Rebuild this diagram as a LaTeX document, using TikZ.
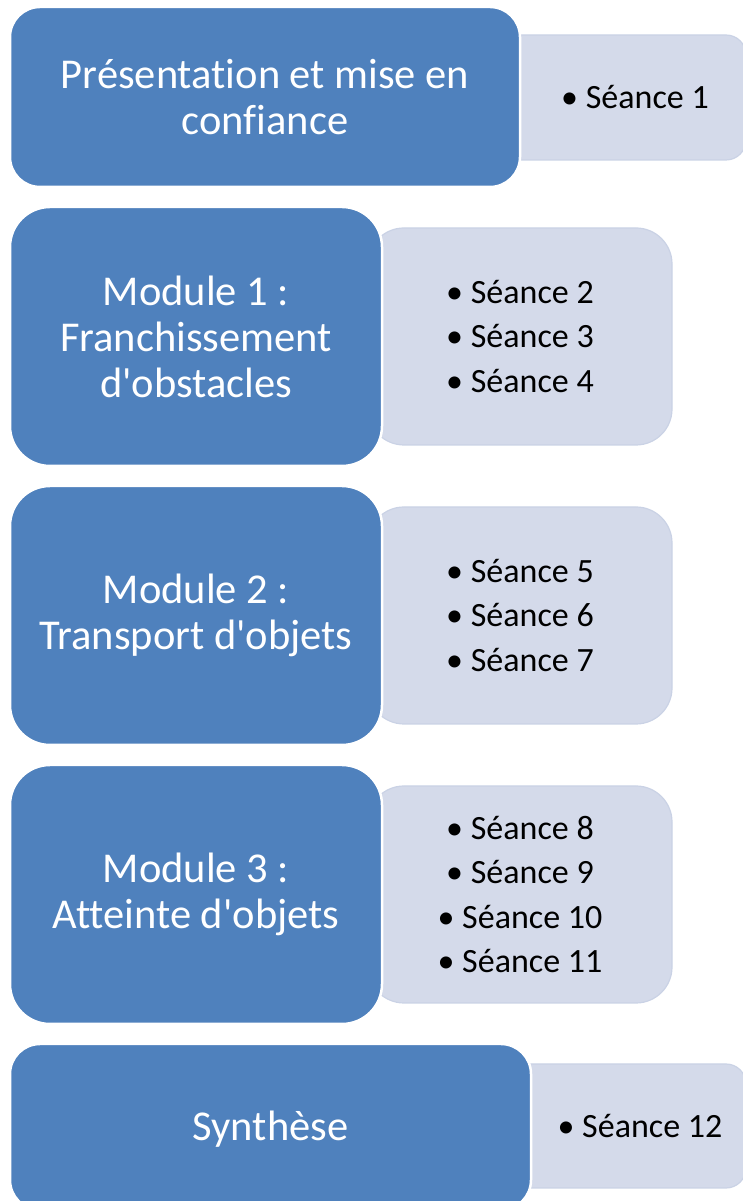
\documentclass[tikz,border=0pt]{standalone}
\usepackage{fontspec}
\setmainfont{Carlito}[Ligatures={NoCommon,TeXOff}]
\definecolor{mainblue}{HTML}{4F81BD}
\definecolor{lightbg}{HTML}{D4DAEA}
\definecolor{lightedge}{HTML}{CAD2E5}
\begin{document}
\begin{tikzpicture}[x=1pt,y=1pt,
  bluebox/.style={draw=white,line width=2.5pt,fill=mainblue,inner sep=0pt},
  lightbox/.style={draw=lightedge,line width=1.2pt,fill=lightbg,inner sep=0pt},
  bluetext/.style={text=white,font=\fontsize{42.5}{46}\selectfont,align=center,inner sep=0pt},
  sesstext/.style={text=black,font=\fontsize{34}{44.5}\selectfont,align=center,inner sep=0pt}]
\useasboundingbox (0,0) rectangle (743,1201);
\clip (0,0) rectangle (743,1201);
% light boxes (behind)
\path[lightbox,rounded corners=20pt] (500,1201-35) rectangle (746,1201-160);
\node[lightbox,rounded corners=36pt,minimum width=304pt,minimum height=217pt] (l2) at (520,1201-336.5) {};
\node[lightbox,rounded corners=36pt,minimum width=304pt,minimum height=217pt] (l3) at (520,1201-615.5) {};
\node[lightbox,rounded corners=36pt,minimum width=304pt,minimum height=217pt] (l4) at (520,1201-894.5) {};
\path[lightbox,rounded corners=20pt] (500,1201-1064) rectangle (746,1201-1188);
% blue boxes
\node[bluebox,rounded corners=30pt,minimum width=510pt,minimum height=180pt] (b1) at (265,1201-97) {};
\node[bluebox,rounded corners=40pt,minimum width=372pt,minimum height=259pt] (b2) at (196,1201-336.5) {};
\node[bluebox,rounded corners=40pt,minimum width=372pt,minimum height=259pt] (b3) at (196,1201-615.5) {};
\node[bluebox,rounded corners=40pt,minimum width=372pt,minimum height=259pt] (b4) at (196,1201-894.5) {};
\node[bluebox,rounded corners=30pt,minimum width=521pt,minimum height=166pt] (b5) at (270.5,1201-1127) {};
% texts
\node[bluetext] (t1) at (b1.center) {Présentation et mise en\\confiance};
\node[bluetext] (t2) at (b2.center) {Module 1 :\\Franchissement\\d'obstacles};
\node[bluetext] (t3) at (b3.center) {Module 2 :\\Transport d'objets};
\node[bluetext] (t4) at (b4.center) {Module 3 :\\Atteinte d'objets};
\node[bluetext,yshift=-2pt] (t5) at (b5.center) {Synthèse};
\node[sesstext] (s1) at (635,1201-97) {• Séance 1};
\node[sesstext] (s2) at (l2.center) {• Séance 2\\• Séance 3\\• Séance 4};
\node[sesstext] (s3) at (l3.center) {• Séance 5\\• Séance 6\\• Séance 7};
\node[sesstext] (s4) at (l4.center) {• Séance 8\\• Séance 9\\• Séance 10\\• Séance 11};
\node[sesstext] (s5) at (640,1201-1126) {• Séance 12};
\end{tikzpicture}
\end{document}
